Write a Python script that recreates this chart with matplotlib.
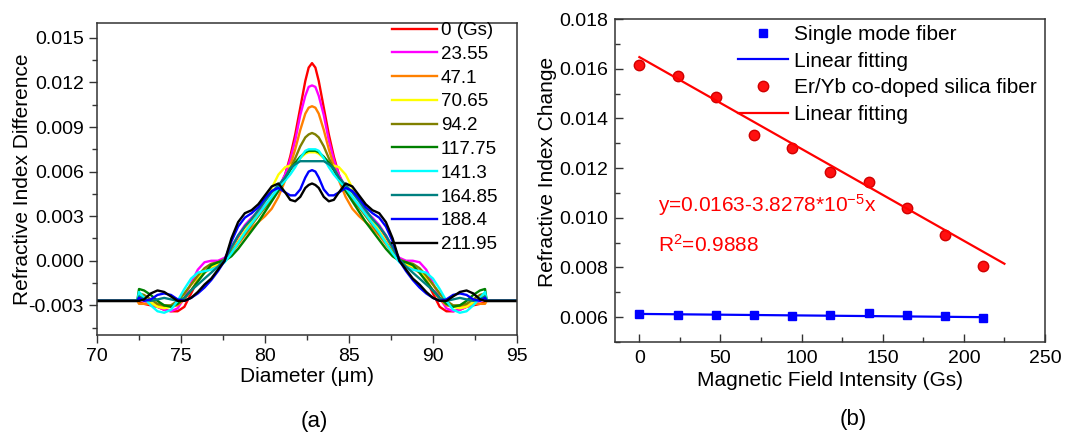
import matplotlib
matplotlib.use('Agg')
import matplotlib.pyplot as plt
from matplotlib.ticker import MultipleLocator, FormatStrFormatter

plt.rcParams['font.family'] = 'Liberation Sans'
plt.rcParams['axes.unicode_minus'] = False
plt.rcParams['mathtext.fontset'] = 'custom'
plt.rcParams['mathtext.rm'] = 'Liberation Sans'
plt.rcParams['mathtext.default'] = 'regular'

# ---------------- (a) refractive index profiles ----------------
diam = [70.0, 72.4, 72.5, 72.8, 73.2, 73.6, 74.0, 74.4, 74.8, 75.2, 75.6, 76.0, 76.4,
        76.8, 77.2, 77.6, 78.0, 78.4, 78.8, 79.2, 79.6, 80.0, 80.4, 80.8, 81.2, 81.5,
        81.8, 82.1, 82.4, 82.6, 82.8,
        83.0, 83.2, 83.5, 83.8, 84.1, 84.4, 84.8, 85.2, 85.6, 86.0, 86.4, 86.8, 87.2,
        87.6, 88.0, 88.4, 88.8, 89.2, 89.6, 90.0, 90.4, 90.8, 91.2, 91.6, 92.0, 92.4,
        92.8, 93.1, 93.2, 95.0]

# left half of each profile (70 .. 82.8 um), the profiles are symmetric about 82.8
half_0 = [-0.0027, -0.0027, -0.0028, -0.0029, -0.0030, -0.0031, -0.0033, -0.0034, -0.0034, -0.0031,
          -0.0022, -0.0013, -0.0007, -0.0004, -0.0002, 0.0001, 0.0008, 0.0016, 0.0023, 0.0028,
          0.0032, 0.0036, 0.0041, 0.0048, 0.0058, 0.0070, 0.0085, 0.0103, 0.0121, 0.0130, 0.0133]
half_2355 = [-0.0027, -0.0027, -0.0026, -0.0027, -0.0029, -0.0031, -0.0033, -0.0034, -0.0032, -0.0025,
             -0.0015, -0.0006, -0.0001, 0.0000, 0.0000, 0.0002, 0.0009, 0.0017, 0.0024, 0.0029,
             0.0033, 0.0037, 0.0042, 0.0049, 0.0058, 0.0068, 0.0081, 0.0098, 0.0111, 0.0117, 0.0118]
half_471 = [-0.0027, -0.0027, -0.0029, -0.0029, -0.0029, -0.0030, -0.0031, -0.0031, -0.0030, -0.0026,
            -0.0020, -0.0013, -0.0008, -0.0005, -0.0003, 0.0000, 0.0005, 0.0011, 0.0017, 0.0022,
            0.0026, 0.0030, 0.0035, 0.0043, 0.0054, 0.0064, 0.0075, 0.0088, 0.0099, 0.0103, 0.0104]
half_7065 = [-0.0027, -0.0027, -0.0023, -0.0025, -0.0028, -0.0031, -0.0032, -0.0031, -0.0028, -0.0022,
             -0.0016, -0.0011, -0.0007, -0.0004, -0.0002, 0.0000, 0.0006, 0.0013, 0.0020, 0.0027,
             0.0034, 0.0041, 0.0049, 0.0058, 0.0063, 0.0064, 0.0066, 0.0069, 0.0072, 0.0073, 0.0073]
half_942 = [-0.0027, -0.0027, -0.0022, -0.0023, -0.0026, -0.0029, -0.0030, -0.0030, -0.0027, -0.0022,
            -0.0016, -0.0010, -0.0005, -0.0002, -0.0001, 0.0001, 0.0006, 0.0012, 0.0018, 0.0024,
            0.0030, 0.0036, 0.0042, 0.0049, 0.0056, 0.0062, 0.0069, 0.0077, 0.0083, 0.0085, 0.0086]
half_11775 = [-0.0027, -0.0027, -0.0019, -0.0020, -0.0023, -0.0027, -0.0030, -0.0031, -0.0029, -0.0025,
              -0.0020, -0.0014, -0.0008, -0.0003, -0.0001, 0.0000, 0.0003, 0.0008, 0.0014, 0.0020,
              0.0026, 0.0033, 0.0040, 0.0047, 0.0055, 0.0061, 0.0066, 0.0070, 0.0073, 0.0074, 0.0074]
half_1413 = [-0.0027, -0.0027, -0.0021, -0.0025, -0.0030, -0.0034, -0.0035, -0.0033, -0.0027, -0.0019,
             -0.0012, -0.0008, -0.0007, -0.0006, -0.0004, -0.0001, 0.0005, 0.0012, 0.0019, 0.0025,
             0.0031, 0.0037, 0.0043, 0.0049, 0.0054, 0.0058, 0.0063, 0.0069, 0.0074, 0.0075, 0.0075]
half_16485 = [-0.0027, -0.0027, -0.0024, -0.0026, -0.0027, -0.0026, -0.0025, -0.0026, -0.0027, -0.0025,
              -0.0020, -0.0016, -0.0012, -0.0008, -0.0004, 0.0001, 0.0009, 0.0017, 0.0023, 0.0028,
              0.0034, 0.0040, 0.0046, 0.0051, 0.0056, 0.0062, 0.0065, 0.0067, 0.0067, 0.0067, 0.0067]
half_1884 = [-0.0027, -0.0027, -0.0025, -0.0027, -0.0026, -0.0023, -0.0022, -0.0023, -0.0026, -0.0027,
             -0.0025, -0.0022, -0.0018, -0.0013, -0.0007, 0.0000, 0.0013, 0.0023, 0.0029, 0.0032,
             0.0036, 0.0042, 0.0047, 0.0049, 0.0046, 0.0044, 0.0044, 0.0048, 0.0056, 0.0060, 0.0061]
half_21195 = [-0.0027, -0.0027, -0.0027, -0.0026, -0.0022, -0.0020, -0.0021, -0.0024, -0.0027, -0.0027,
              -0.0025, -0.0021, -0.0016, -0.0012, -0.0006, 0.0000, 0.0015, 0.0026, 0.0032, 0.0034,
              0.0038, 0.0044, 0.0050, 0.0052, 0.0046, 0.0041, 0.0040, 0.0043, 0.0049, 0.0051, 0.0052]

profiles = [half_0, half_2355, half_471, half_7065, half_942,
            half_11775, half_1413, half_16485, half_1884, half_21195]
labels_a = ['0 (Gs)', '23.55', '47.1', '70.65', '94.2',
            '117.75', '141.3', '164.85', '188.4', '211.95']
colors_a = ['#ff0000', '#ff00ff', '#ff8000', '#ffff00', '#808000',
            '#008000', '#00ffff', '#008080', '#0000ff', '#000000']

# ---------------- (b) refractive index change vs field ----------------
field = [0, 23.55, 47.1, 70.65, 94.2, 117.75, 141.3, 164.85, 188.4, 211.95]
smf = [0.00613, 0.00607, 0.00610, 0.00607, 0.00603, 0.00610, 0.00616, 0.00610, 0.00603, 0.00597]
eryb = [0.01616, 0.01571, 0.01488, 0.01335, 0.01280, 0.01186, 0.01143, 0.01038, 0.00930, 0.00804]
smf_fit_x = [0, 211.95]
smf_fit_y = [0.00613, 0.00600]
eryb_fit_x = [0, 225]
eryb_fit_y = [0.01647, 0.00815]

fig = plt.figure(figsize=(10.65, 4.34), dpi=100)
ax1 = fig.add_axes([0.0911, 0.228, 0.3943, 0.719])
ax2 = fig.add_axes([0.5775, 0.212, 0.4037, 0.744])

for half, lab, c in zip(profiles, labels_a, colors_a):
    y = half + half[-2::-1]
    ax1.plot(diam, y, color=c, lw=1.7, label=lab)

ax1.set_xlim(70, 95)
ax1.set_ylim(-0.005, 0.016)
ax1.xaxis.set_major_locator(MultipleLocator(5))
ax1.xaxis.set_minor_locator(MultipleLocator(2.5))
ax1.yaxis.set_major_locator(MultipleLocator(0.003))
ax1.yaxis.set_minor_locator(MultipleLocator(0.0015))
ax1.yaxis.set_major_formatter(FormatStrFormatter('%.3f'))
ax1.set_xlabel('Diameter (\u03bcm)', fontsize=15, labelpad=1)
ax1.set_ylabel('Refractive Index Difference', fontsize=15)
ax1.yaxis.set_label_coords(-0.155, 0.5)
ax1.legend(loc='upper left', bbox_to_anchor=(392 / 1065, 1 - 22 / 434),
           bbox_transform=fig.transFigure, frameon=False, fontsize=13.5,
           handlelength=2.4, handletextpad=0.2, labelspacing=0.355,
           borderpad=0, borderaxespad=0)
ax1.tick_params(which='both', direction='out', pad=4)

ax2.plot(field, smf, 's', color='#0000ff', ms=6, label='Single mode fiber')
ax2.plot(smf_fit_x, smf_fit_y, '-', color='#0000ff', lw=1.6, label='Linear fitting')
ax2.plot(field, eryb, 'o', color='#ff1010', mec='#d00000', ms=7.5,
         label='Er/Yb co-doped silica fiber')
ax2.plot(eryb_fit_x, eryb_fit_y, '-', color='#ff0000', lw=1.6, label='Linear fitting')
ax2.set_xlim(-15, 250)
ax2.set_ylim(0.005, 0.018)
ax2.xaxis.set_major_locator(MultipleLocator(50))
ax2.xaxis.set_minor_locator(MultipleLocator(25))
ax2.yaxis.set_major_locator(MultipleLocator(0.002))
ax2.yaxis.set_minor_locator(MultipleLocator(0.001))
ax2.yaxis.set_major_formatter(FormatStrFormatter('%.3f'))
ax2.set_xlabel('Magnetic Field Intensity (Gs)', fontsize=15, labelpad=3)
ax2.set_ylabel('Refractive Index Change', fontsize=15)
ax2.yaxis.set_label_coords(-0.135, 0.528)
ax2.legend(loc='upper left', bbox_to_anchor=(738 / 1065, 1 - 25 / 434),
           bbox_transform=fig.transFigure, frameon=False, fontsize=15,
           handlelength=2.4, handletextpad=0.3, labelspacing=0.365,
           borderpad=0, borderaxespad=0)
ax2.text(11.5, 0.0105, 'y=0.0163-3.8278*10$^{-5}$x', color='#ff0000',
         fontsize=15, va='center', ha='left')
ax2.text(11.5, 0.0089, 'R$^{2}$=0.9888', color='#ff0000',
         fontsize=15, va='center', ha='left')
ax2.tick_params(which='both', direction='in')
ax2.tick_params(axis='y', which='both', pad=5)
ax2.tick_params(axis='x', which='both', pad=6)

for ax in (ax1, ax2):
    for s in ax.spines.values():
        s.set_linewidth(1.1)
        s.set_color('#333333')
    ax.tick_params(which='both', top=False, right=False,
                   labelsize=14, width=1.0, color='#333333')
    ax.tick_params(which='major', length=5.5)
    ax.tick_params(which='minor', length=3.5)

fig.text(314 / 1065, 1 - 421 / 434, '(a)', fontsize=16, ha='center', va='center')
fig.text(853 / 1065, 1 - 420 / 434, '(b)', fontsize=16, ha='center', va='center')

fig.savefig('out.png', dpi=100)
